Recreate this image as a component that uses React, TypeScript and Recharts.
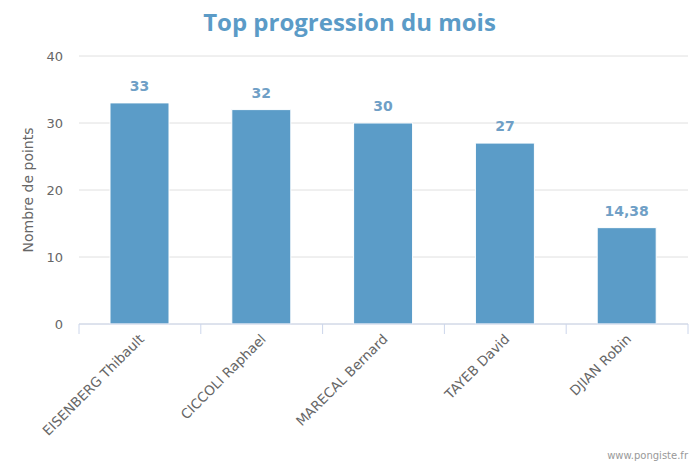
import { BarChart, Bar, XAxis, YAxis, CartesianGrid, LabelList } from "recharts";

const joueurs = ["EISENBERG Thibault", "CICCOLI Raphael", "MARECAL Bernard", "TAYEB David", "DJIAN Robin"];
const points = [33, 32, 30, 27, 14.38];
const yTicks = [0, 10, 20, 30, 40];

const data = joueurs.map((nom, i) => ({ nom, points: points[i] }));

const W = 699;
const H = 466;
const M = { top: 56, right: 11, left: 0, bottom: 0 };
const Y_W = 79;
const bande = (W - M.right - Y_W) / joueurs.length;

// tick entre les catégories + libellé tourné
function TickJoueur(props: any) {
  const { x, y, payload, index } = props;
  const demi = bande / 2;
  return (
    <g>
      <line x1={x - demi} y1={y} x2={x - demi} y2={y + 10} stroke="#ccd6eb" />
      {index === joueurs.length - 1 && (
        <line x1={x + demi} y1={y} x2={x + demi} y2={y + 10} stroke="#ccd6eb" />
      )}
      <text
        transform={`translate(${x + 5},${y + 16}) rotate(-45)`}
        textAnchor="end"
        fontSize={13.5}
        fill="#666666"
        fontFamily="DejaVu Sans"
      >
        {payload.value}
      </text>
    </g>
  );
}

export default function App() {
  return (
    <div style={{ position: "absolute", left: 0, top: 0, width: W, height: H, background: "#fff" }}>
      <div
        style={{
          position: "absolute",
          top: 5,
          left: 0,
          width: W,
          textAlign: "center",
          fontFamily: "Open Sans",
          fontWeight: 700,
          fontSize: 24,
          color: "#5b9bc7",
        }}
      >
        Top progression du mois
      </div>
      <BarChart width={W} height={H} data={data} margin={M}>
        <CartesianGrid vertical={false} stroke="#e0e0e0" />
        <XAxis
          dataKey="nom"
          interval={0}
          height={H - M.top - 268}
          axisLine={{ stroke: "#ccd6eb" }}
          tickLine={false}
          tickSize={0}
          tickMargin={0}
          tick={<TickJoueur />}
        />
        <YAxis
          width={Y_W}
          domain={[0, 40]}
          ticks={yTicks}
          axisLine={false}
          tickLine={false}
          tick={{ fontSize: 13, fill: "#666666", fontFamily: "DejaVu Sans", dx: -8 }}
          label={{
            value: "Nombre de points",
            angle: -90,
            position: "insideLeft",
            offset: 28,
            style: { textAnchor: "middle", fontSize: 14, fill: "#666666", fontFamily: "DejaVu Sans" },
          }}
        />
        <Bar dataKey="points" fill="#5b9cc8" stroke="#ffffff" strokeWidth={1} barSize={59} isAnimationActive={false}>
          <LabelList
            dataKey="points"
            position="top"
            offset={12}
            formatter={(v: any) => String(v).replace(".", ",")}
            style={{ fontSize: 14, fontWeight: 700, fill: "#6f9fc6", fontFamily: "DejaVu Sans" }}
          />
        </Bar>
      </BarChart>
      <div
        style={{
          position: "absolute",
          right: 11,
          top: 450,
          fontFamily: "DejaVu Sans",
          fontSize: 10,
          color: "#999999",
        }}
      >
        www.pongiste.fr
      </div>
    </div>
  );
}
